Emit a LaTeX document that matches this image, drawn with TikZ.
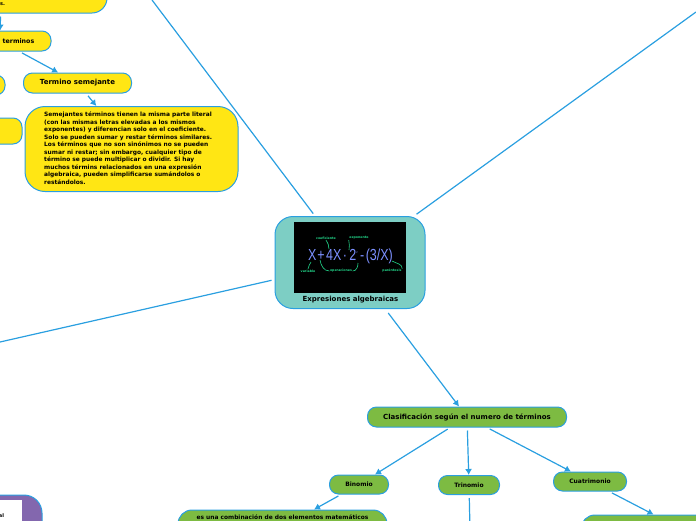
\documentclass[tikz,border=0pt]{standalone}
\usepackage{fontspec}
\setmainfont{DejaVu Sans}
\newfontfamily\formulafont{Liberation Sans}
\definecolor{linkblue}{HTML}{2A9FE0}
\definecolor{tealfill}{HTML}{7DCEC4}
\definecolor{yellowfill}{HTML}{FFE614}
\definecolor{greenfill}{HTML}{7DBB42}
\definecolor{purplefill}{HTML}{8367AE}
\definecolor{mintink}{HTML}{22D68A}
\definecolor{blueink}{HTML}{7C90FF}
\usetikzlibrary{arrows.meta}
\tikzset{
  topic/.style={draw=linkblue,line width=1pt,rounded corners=#1,font=\bfseries\fontsize{6}{7.4}\selectfont,align=center,inner sep=0pt},
  topic/.default=9pt,
  bigtopic/.style={topic,font=\bfseries\fontsize{7}{8}\selectfont},
  link/.style={linkblue,line width=1.2pt,shorten <=3pt},
  tip/.style={-{Latex[length=6pt,width=7pt]}},
  tinytext/.style={font=\bfseries\fontsize{3.2}{3.2}\selectfont,text=mintink,inner sep=0.5pt},
  tinyline/.style={mintink,line width=0.6pt}
}
\begin{document}
\begin{tikzpicture}[x=1pt,y=-1pt]
    \useasboundingbox (0,0) rectangle (696,520);
    % yellow branch
    \node[topic=15pt,fill=yellowfill,minimum width=212pt,minimum height=44pt] (defin) at (1,-9) {};
    \node[font=\bfseries\fontsize{5}{6}\selectfont,anchor=west,inner sep=0pt] at (0,4) {s.};
    \node[topic,fill=yellowfill,minimum width=102pt,minimum height=20pt] (terminos) at (0,41) {};
    \node[font=\bfseries\fontsize{6.3}{8}\selectfont,anchor=east,inner sep=0pt] at (34.5,41) {terminos};
    \node[bigtopic,fill=yellowfill,minimum width=108pt,minimum height=20pt] (semejante) at (77.5,83) {Termino semejante};
    \node[topic=20pt,fill=yellowfill,minimum width=213pt,minimum height=85pt] (semtexto) at (131.5,149) {};
    \node[font=\bfseries\fontsize{5.9}{7.5}\selectfont,align=left,anchor=north west,inner sep=0pt] at (44,112) {Semejantes términos tienen la misma parte literal\\(con las mismas letras elevadas a los mismos\\exponentes) y diferencian solo en el coeficiente.\\Solo se pueden sumar y restar términos similares.\\Los términos que no son sinónimos no se pueden\\sumar ni restar; sin embargo, cualquier tipo de\\término se puede multiplicar o dividir. Si hay\\muchos términs relacionados en una expresión\\algebraica, pueden simplificarse sumándolos o\\restándolos.};
    \node[topic,fill=yellowfill,minimum width=40pt,minimum height=20pt] (ladoa) at (-15,85) {};
    \node[topic,fill=yellowfill,minimum width=60pt,minimum height=26pt] (ladob) at (-8,131) {};
    % centre
    \node[topic=18pt,fill=tealfill,minimum width=150pt,minimum height=92pt] (expr) at (350,262.5) {};
    \node[fill=black,minimum width=112pt,minimum height=71pt,inner sep=0pt] (foto) at (350,257.5) {};
    \node[font=\bfseries\fontsize{7}{8}\selectfont] at (350.5,299.5) {Expresiones algebraicas};
    \node[font=\formulafont\fontsize{16}{16}\selectfont,text=blueink,inner sep=0pt] (formula) at (350.5,256) {\scalebox{0.78}[1]{X\hspace{1pt}+\hspace{2pt}4X\hspace{2pt}·\hspace{3pt}2\raisebox{7pt}{\fontsize{3}{3}\selectfont 2}\hspace{3pt}-\hspace{2pt}(3/X)}};
    \node[tinytext] (coef) at (326,238) {coeficiente};
    \node[tinytext] (expo) at (359,238) {exponente};
    \node[tinytext] (vari) at (308,271) {variable};
    \node[tinytext] (oper) at (341,271) {operaciones};
    \node[tinytext] (pare) at (392,271) {paréntesis};
    \draw[tinyline] (coef.south) to[out=-60,in=90] (329,249);
    \draw[tinyline] (expo.south west) to[out=-90,in=70] (349,250);
    \draw[tinyline] (vari.north) to[out=90,in=-110] (311,262);
    \draw[tinyline] (oper.west) to[out=180,in=-80] (320,260);
    \draw[tinyline] (oper.east) to[out=0,in=-90] (358,263);
    \draw[tinyline] (pare.north east) to[out=90,in=-30] (392,261);
    % green branch
    \node[bigtopic,fill=greenfill,minimum width=199pt,minimum height=20pt] (clasif) at (467,417) {Clasificación según el numero de términos};
    \node[topic,fill=greenfill,minimum width=59pt,minimum height=19pt] (binomio) at (359,484.5) {Binomio};
    \node[topic,fill=greenfill,minimum width=61pt,minimum height=19pt] (trinomio) at (469,485) {Trinomio};
    \node[topic,fill=greenfill,minimum width=73pt,minimum height=19pt] (cuatri) at (590,481.5) {Cuatrimonio};
    \node[topic=14pt,fill=greenfill,minimum width=209pt,minimum height=34pt] (bintexto) at (282.5,527) {};
    \node[font=\bfseries\fontsize{5.9}{7}\selectfont,anchor=base,inner sep=0pt] at (282.5,519.8) {es una combinación de dos elementos matemáticos};
    \node[topic=14pt,fill=greenfill,minimum width=224pt,minimum height=40pt] (cuatexto) at (693,535) {};
    \coordinate (trifin) at (470,530);
    % purple
    \node[topic=18pt,fill=purplefill,minimum width=90pt,minimum height=70pt] (morado) at (-3,530) {};
    \node[fill=white,minimum width=50pt,minimum height=50pt,inner sep=0pt] (moradofoto) at (-3,525) {};
    \node[font=\bfseries\fontsize{5}{6}\selectfont] at (1.5,515.5) {al};
    % free ends
    \coordinate (arriba) at (152,0);
    \coordinate (derecha) at (696,12);
    \coordinate (izquierda) at (0,342);
    \draw[link] (expr) -- (arriba);
    \draw[link] (expr) -- (derecha);
    \draw[link] (expr) -- (izquierda);
    \draw[link,tip,shorten <=5pt] (expr) -- (clasif);
    \draw[link,tip] (clasif) -- (binomio);
    \draw[link,tip] (clasif) -- (trinomio);
    \draw[link,tip] (clasif) -- (cuatri);
    \draw[link,tip] (binomio) -- (bintexto);
    \draw[link] (trinomio) -- (trifin);
    \draw[link,tip] (cuatri) -- (cuatexto);
    \draw[link,tip] (terminos) -- (semejante);
    \draw[link,tip] (semejante) -- (semtexto);
    \draw[link,tip] (defin) -- (terminos);
\end{tikzpicture}
\end{document}
